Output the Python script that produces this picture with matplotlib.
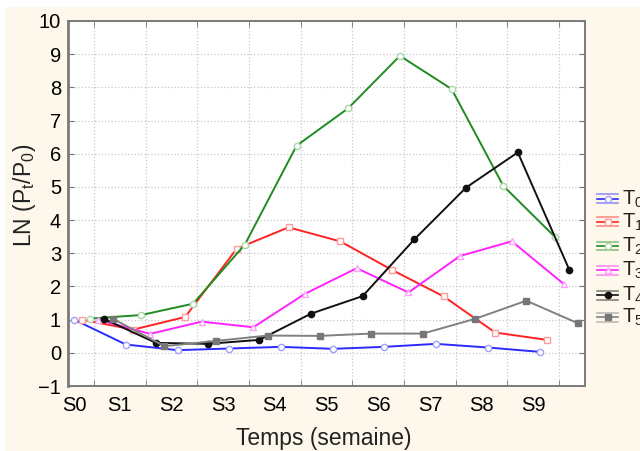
import numpy as np
import matplotlib
matplotlib.use("Agg")
import matplotlib.pyplot as plt
from matplotlib.lines import Line2D
from matplotlib.patches import Rectangle

plt.rcParams['font.family'] = ['Liberation Sans', 'DejaVu Sans']
plt.rcParams['mathtext.default'] = 'regular'

# Weeks and their labels.
weeks = np.arange(10)
week_labels = ['S0', 'S1', 'S2', 'S3', 'S4', 'S5', 'S6', 'S7', 'S8', 'S9']

# LN(Pt/P0) per treatment.
t0 = [1.0, 0.25, 0.08, 0.13, 0.18, 0.12, 0.18, 0.27, 0.16, 0.03]
t1 = [1.0, 0.70, 1.08, 3.14, 3.78, 3.36, 2.50, 1.70, 0.61, 0.39]
t2 = [1.03, 1.14, 1.48, 3.26, 6.24, 7.37, 8.95, 7.95, 5.03, 3.49]
t3 = [1.0, 0.57, 0.94, 0.77, 1.78, 2.55, 1.82, 2.92, 3.36, 2.08]
t4 = [1.02, 0.30, 0.27, 0.39, 1.18, 1.71, 3.42, 4.98, 6.04, 2.49]
t5 = [1.03, 0.20, 0.36, 0.52, 0.51, 0.58, 0.58, 1.02, 1.57, 0.89]

series_names = ['T$_0$', 'T$_1$', 'T$_2$', 'T$_3$', 'T$_4$', 'T$_5$']
series_values = [t0, t1, t2, t3, t4, t5]

# Styles: horizontal shift, line colour, marker, marker face, marker edge.
styles = [
    (0.12, '#2b2bff', 'o', 'white', '#a0a0ff'),
    (0.265, '#ff2222', 's', 'white', '#ff9a9a'),
    (0.42, '#1f8c1f', 'o', 'white', '#a8d8a8'),
    (0.585, '#ff22ff', '^', 'white', '#ffa0ff'),
    (0.70, '#111111', 'o', '#111111', '#111111'),
    (0.865, '#808080', 's', '#777777', '#777777'),
]

W, H = 640, 451
fig = plt.figure(figsize=(W / 100, H / 100), dpi=100)
fig.patch.set_facecolor('white')
fig.add_artist(Rectangle((5 / W, 0), 1, 1 - 7 / H, transform=fig.transFigure,
                         facecolor='#fdf8eb', edgecolor='none', zorder=-10))

ax = fig.add_axes([68 / W, 1 - 386 / H, (585 - 68) / W, (386 - 21) / H])
ax.set_facecolor('white')

for values, (shift, color, marker, face, edge) in zip(series_values, styles):
    ax.plot(weeks + shift, values, color=color, lw=1.4, marker=marker,
            ms=4.5 if marker != '^' else 5, markerfacecolor=face,
            markeredgecolor=edge, markeredgewidth=1.0, clip_on=False, zorder=3)

ax.set_xlim(0, 10)
ax.set_ylim(-1, 10)

# Labels sit near the weeks, ticks and grid between them.
ax.set_xticks([0.13] + list(weeks[1:]))
ax.set_xticklabels(week_labels)
ax.set_xticks(np.arange(0.5, 10, 1), minor=True)
ax.tick_params(axis='x', which='major', length=0, pad=7, labelsize=14.5)
ax.tick_params(axis='x', which='minor', direction='in', length=4,
               top=True, bottom=True, color='#777777')
ax.set_yticks(np.arange(-1, 11, 1))
ax.tick_params(axis='y', which='major', direction='in', length=4, pad=5,
               left=True, right=True, labelsize=14.5, color='#777777')

ax.grid(True, which='minor', axis='x', color='#c8c8c8', linestyle=':', lw=0.9)
ax.grid(True, which='major', axis='y', color='#c8c8c8', linestyle=':', lw=0.9)
ax.grid(False, which='major', axis='x')

for side in ['left', 'bottom', 'right', 'top']:
    ax.spines[side].set_color('#7a7a7a')
    ax.spines[side].set_linewidth(1.4)
ax.spines['left'].set_linewidth(2.0)

fig.text(324 / W, 1 - 445 / H, 'Temps (semaine)', ha='center', va='baseline',
         fontsize=16.5, color='#222222')
fig.text(24 / W, 1 - 195 / H, 'LN (P$_t$/P$_0$)', ha='center', va='center',
         rotation=90, fontsize=16.5, color='#222222')

# Legend drawn to the right of the plot, cut by the picture edge as in the original.
legend_y = [199, 222, 246, 270, 295, 317]
for name, ypix, (shift, color, marker, face, edge) in zip(series_names, legend_y, styles):
    yf = 1 - ypix / H
    dy = 4.5 / H
    x0, x1 = 597 / W, 618 / W
    for off in (dy, -dy):
        fig.add_artist(Line2D([x0, x1], [yf + off, yf + off], transform=fig.transFigure,
                              color=color, alpha=0.5, lw=1.2))
    fig.add_artist(Line2D([x0, x1], [yf, yf], transform=fig.transFigure, color=color, lw=1.2))
    fig.add_artist(Line2D([(x0 + x1) / 2], [yf], transform=fig.transFigure, marker=marker,
                          ms=4.5, markerfacecolor=face, markeredgecolor=edge, lw=0))
    fig.text(622 / W, yf, name, ha='left', va='center', fontsize=14.5, color='#222222')

fig.savefig('out.png', dpi=100, facecolor=fig.get_facecolor())
